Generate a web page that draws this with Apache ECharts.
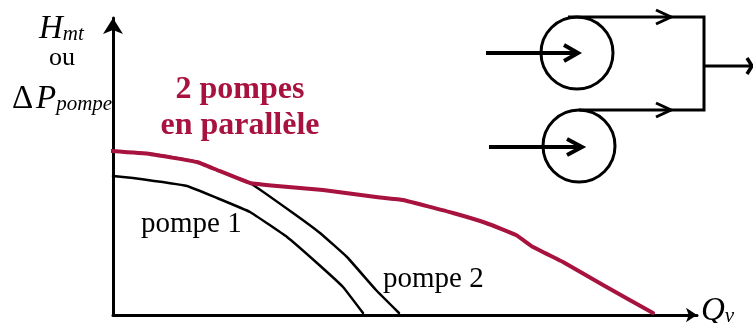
<!DOCTYPE html>
<html><head><meta charset="utf-8">
<style>html,body{margin:0;padding:0;background:#fff}#c{width:753px;height:323px}</style>
<script src="https://cdn.jsdelivr.net/npm/echarts@6/dist/echarts.min.js"></script>
</head><body><div id="c"></div>
<script>
// Curves, [Qv, H] in arbitrary chart units
const pompe1 = [[0,139],[20,137],[74,129],[104,117],[137,103],[174,78],[204,52],[230,28],[250,2]];
const pompe2 = [[0,164],[40,161],[84,153],[104,145],[137,132],[180,102],[207,82],[234,58],[263,25],[286,2]];
const parallele = [[-3,164],[37,161],[84,153],[104,145],[137,132],[164,129],[210,125],[263,118],[290,115],[340,102],[373,92],[403,80],[420,68],[450,53],[490,30],[540,2]];
const labels = { pompe1:'pompe 1', pompe2:'pompe 2', titre1:'2 pompes', titre2:'en parallèle', ou:'ou' };
const RED = '#a8123e', BLACK = '#000', SERIF = '"Liberation Serif", serif';

const ln = (p, w) => ({type:'polyline', shape:{points:p}, style:{stroke:BLACK, lineWidth:w, fill:null}, silent:true});
const circ = (x,y,r) => ({type:'circle', shape:{cx:x,cy:y,r}, style:{stroke:BLACK, lineWidth:3, fill:null}, silent:true});
const txt = (x,y,text,font,fill,align) => ({type:'text', x, y, style:{text, font, fill:fill||BLACK, align:align||'left', verticalAlign:'middle'}, silent:true});
const rich = (x,y,a,b,sa,sb) => ({type:'text', x, y, style:{text:`{a|${a}}{b|${b}}`, align:'left', verticalAlign:'middle',
  rich:{a:{font:`italic ${sa}px ${SERIF}`, fill:BLACK}, b:{font:`italic ${sb}px ${SERIF}`, fill:BLACK, padding:[10,0,0,0]}}}, silent:true});

const diagram = [
  circ(577,53,36), circ(579,146,36),
  ln([[486,53],[577,53]],4), ln([[564,45],[578,53],[564,61]],4),
  ln([[489,147],[581,147]],4), ln([[567,139],[582,147],[567,155]],4),
  ln([[568,17],[704,17],[704,110],[579,110]],3),
  ln([[656,10],[671,17],[656,24]],3), ln([[656,103],[671,110],[656,117]],3),
  ln([[704,66],[751,66]],3), ln([[747,58],[752,66],[747,74]],3.5)
];
const texts = [
  rich(39,29,'H','mt',33,21),
  txt(62,58,labels.ou,`26px ${SERIF}`,BLACK,'center'),
  txt(12,99,'\u0394',`33px ${SERIF}`),
  rich(36,99,'P','pompe',33,21),
  txt(240,90,labels.titre1,`bold 32px ${SERIF}`,RED,'center'),
  txt(240,126,labels.titre2,`bold 32px ${SERIF}`,RED,'center'),
  txt(141,224,labels.pompe1,`29px ${SERIF}`),
  txt(383,279,labels.pompe2,`29px ${SERIF}`),
  rich(701,311,'Q','v',33,21)
];
const lineS = (data,color,width,z) => ({type:'line', data, smooth:0.08, symbol:'none', clip:false, z, lineStyle:{color,width,cap:'round',join:'round'}});

echarts.init(document.getElementById('c'),null,{renderer:'canvas'}).setOption({
  animation:false, backgroundColor:'#fff',
  grid:{left:113,top:18,width:584,height:297},
  xAxis:{type:'value',min:0,max:584,splitLine:{show:false},axisTick:{show:false},axisLabel:{show:false},
    axisLine:{onZero:false,symbol:['none','arrow'],symbolSize:[11,11],lineStyle:{color:BLACK,width:3}}},
  yAxis:{type:'value',min:0,max:297,splitLine:{show:false},axisTick:{show:false},axisLabel:{show:false},
    axisLine:{onZero:false,symbol:['none','arrow'],symbolSize:[15,16],lineStyle:{color:BLACK,width:3}}},
  series:[lineS(pompe1,BLACK,2.5,3),lineS(pompe2,BLACK,2.5,3),lineS(parallele,RED,4,4)],
  graphic:{elements:diagram.concat(texts)}
});
</script></body></html>
